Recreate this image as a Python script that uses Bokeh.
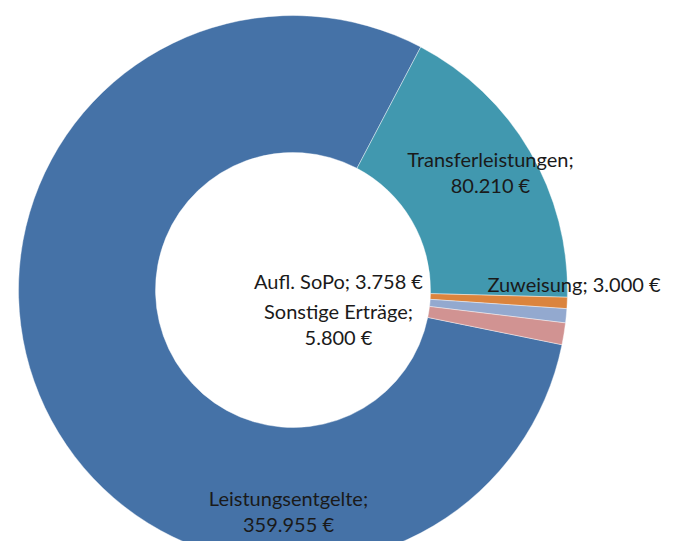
import math
from bokeh.plotting import figure
from bokeh.models import Range1d, ColumnDataSource
from bokeh.core.properties import value
from bokeh.embed import file_html
from bokeh.resources import INLINE

# ---- data ----
categories = ["Leistungsentgelte", "Transferleistungen", "Zuweisung", "Aufl. SoPo", "Sonstige Erträge"]
amounts = [359955, 80210, 3000, 3758, 5800]
colors = ["#4572A7", "#4198AF", "#DB843D", "#93A9CF", "#D19392"]

# ---- layout ----
W, H = 665, 541
cx, cy = 292.5, 251.5          # donut centre (px)
r_out, r_in = 274.5, 137.5
first_angle = 101.5            # degrees clockwise from 12 o'clock
# label placement: offset from centre (px), and whether to wrap after ';'
label_layout = {
    "Leistungsentgelte": (-4.5, -221.0, True),
    "Transferleistungen": (197.5, 118.0, True),
    "Zuweisung": (281.0, 6.5, False),
    "Aufl. SoPo": (45.5, 9.5, False),
    "Sonstige Erträge": (45.5, -34.0, True),
}
FONT = "Lato"
FSIZE = "20px"

total = float(sum(amounts))
starts, ends = [], []
acc = first_angle
for a in amounts:
    span = a / total * 360.0
    s_cw, e_cw = acc, acc + span
    starts.append(math.radians(90.0 - s_cw))
    ends.append(math.radians(90.0 - e_cw))
    acc = e_cw

src = ColumnDataSource(dict(x=[cx] * len(amounts), y=[cy] * len(amounts),
                            start=starts, end=ends, color=colors))

p = figure(width=W, height=H, output_backend="svg", toolbar_location=None,
           x_range=Range1d(0, W), y_range=Range1d(0, H),
           min_border=0, min_border_left=0, min_border_right=0,
           min_border_top=0, min_border_bottom=0)
p.axis.visible = False
p.grid.visible = False
p.outline_line_color = None
p.background_fill_color = "white"
p.border_fill_color = "white"

p.annular_wedge(x="x", y="y", inner_radius=r_in, outer_radius=r_out,
                start_angle="start", end_angle="end", direction="clock",
                fill_color="color", line_color="white", line_width=0.6,
                line_alpha=0.7, source=src)

def fmt(v):
    return "{:,}".format(v).replace(",", ".") + " €"

lx, ly, lt = [], [], []
for cat, amt in zip(categories, amounts):
    dx, dy, wrap = label_layout[cat]
    sep = ";\n" if wrap else "; "
    lx.append(cx + dx)
    ly.append(cy + dy)
    lt.append(cat + sep + fmt(amt))

p.text(x=lx, y=ly, text=lt, text_align="center", text_baseline="middle",
       text_font=value(FONT), text_font_size=FSIZE, text_color="#1a1a1a",
       text_line_height=1.12)

open("out.html", "w").write(file_html(p, INLINE))
